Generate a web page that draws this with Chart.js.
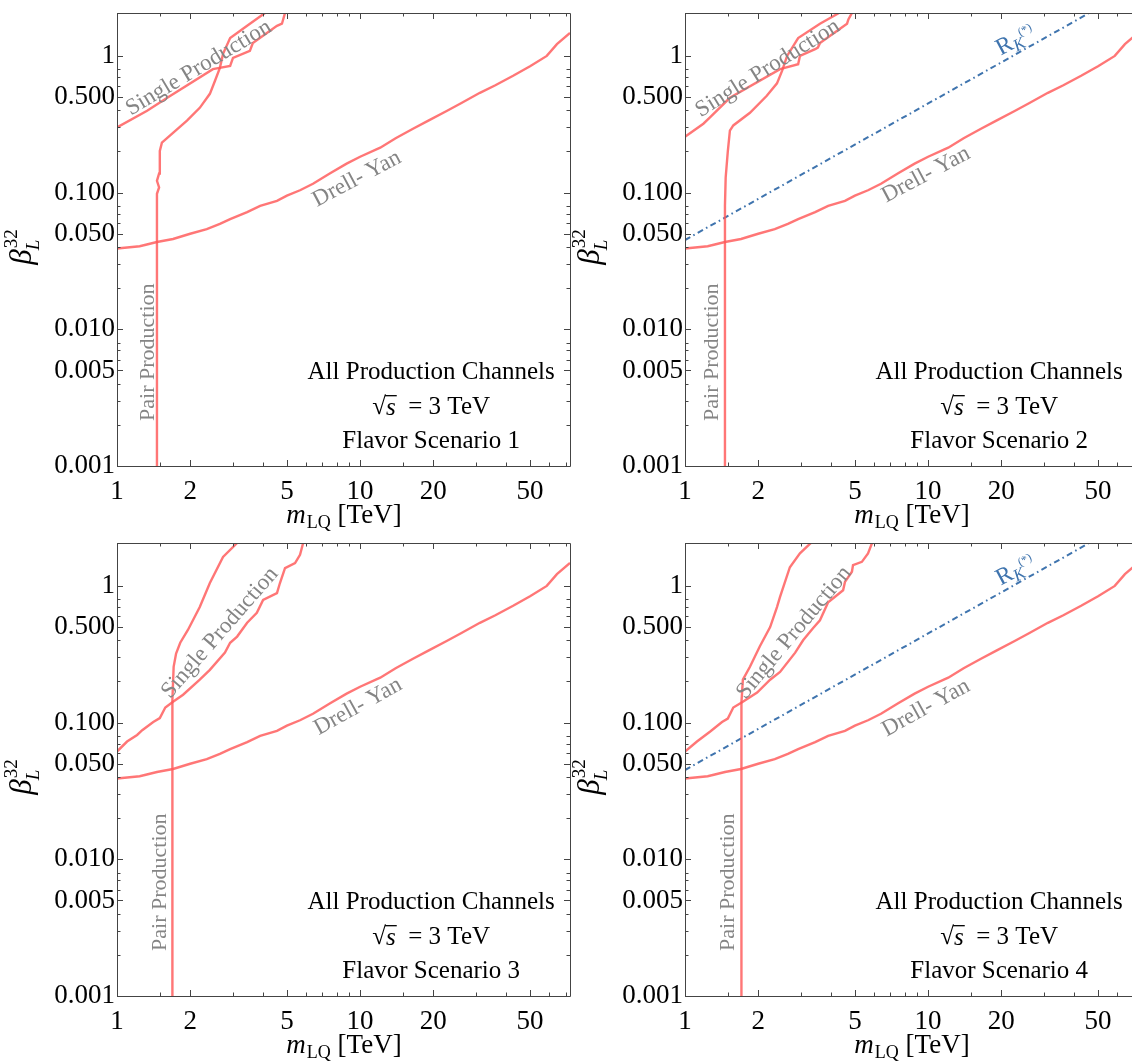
<!DOCTYPE html>
<html>
<head>
<meta charset="utf-8">
<script src="https://cdn.jsdelivr.net/npm/chart.js@4.4.1/dist/chart.umd.min.js"></script>
<style>
  html,body{margin:0;padding:0;background:#fff;overflow:hidden;}
  #wrap{position:relative;width:1132px;height:1062px;overflow:hidden;background:#fff;}
  canvas{position:absolute;}
</style>
</head>
<body>
<div id="wrap">
  <canvas id="c1" width="580" height="531" style="left:0px;top:0px"></canvas>
  <canvas id="c2" width="580" height="531" style="left:568px;top:0px"></canvas>
  <canvas id="c3" width="580" height="531" style="left:0px;top:530px"></canvas>
  <canvas id="c4" width="580" height="531" style="left:568px;top:530px"></canvas>
</div>
<script>
// ---------------- DATA ----------------
const xMin = 1, xMax = 73;
const yMin = 0.001, yMax = 2.06;

const xMajorTicks = [1, 2, 5, 10, 20, 50];
const xTickLabels = ["1", "2", "5", "10", "20", "50"];
const xMinorTicks = [1.5, 3, 4, 6, 7, 8, 9, 15, 30, 40, 60, 70];
const yMajorTicks = [0.001, 0.005, 0.01, 0.05, 0.1, 0.5, 1];
const yTickLabels = ["0.001", "0.005", "0.010", "0.050", "0.100", "0.500", "1"];
const yMinorTicks = [0.002, 0.003, 0.004, 0.006, 0.007, 0.008, 0.02, 0.03, 0.04, 0.06, 0.07, 0.08, 0.2, 0.3, 0.4, 0.6, 0.7, 0.8];

// Drell-Yan bound (same in all scenarios)
const dyMass = [1, 1.24, 1.46, 1.7, 2.0, 2.34, 2.65, 2.92, 3.43, 3.88, 4.55, 5.0, 5.66, 6.4, 7.5, 8.8, 10, 12.1, 14, 16.5, 19, 22.8, 26, 31.1, 36, 42.6, 50, 58.6, 64.5, 73];
const dyBeta = [0.039, 0.0405, 0.0435, 0.0458, 0.050, 0.054, 0.059, 0.064, 0.072, 0.080, 0.087, 0.095, 0.104, 0.116, 0.138, 0.163, 0.183, 0.213, 0.25, 0.293, 0.335, 0.397, 0.45, 0.537, 0.61, 0.715, 0.84, 1.0, 1.22, 1.47];

// R_K(*) preferred line (scenarios 2 and 4)
const rkMass = [1, 46];
const rkBeta = [0.045, 2.06];

// Scenario 1
const s1PairMass = [1.46, 1.46, 1.46, 1.49, 1.46, 1.49, 1.50, 1.53, 1.65, 1.94, 2.19, 2.41, 2.53, 2.65, 2.73, 2.92, 3.43, 4.06];
const s1PairBeta = [0.0009, 0.03, 0.098, 0.109, 0.122, 0.138, 0.202, 0.232, 0.261, 0.336, 0.417, 0.528, 0.658, 0.818, 1.035, 1.35, 1.66, 2.06];
const s1SingleMass = [1, 1.33, 1.61, 2.48, 2.92, 3.0, 3.52, 3.62, 4.55, 4.77, 4.91];
const s1SingleBeta = [0.30, 0.397, 0.494, 0.80, 0.845, 0.966, 1.087, 1.24, 1.66, 1.72, 2.06];

// Scenario 2
const s2PairMass = [1.46, 1.46, 1.47, 1.50, 1.53, 1.58, 1.85, 2.17, 2.39, 2.51, 2.63, 2.92, 3.59, 4.3];
const s2PairBeta = [0.0009, 0.08, 0.129, 0.2, 0.284, 0.31, 0.384, 0.511, 0.63, 0.78, 1.0, 1.35, 1.72, 2.06];
const s2SingleMass = [1.0, 1.19, 1.27, 1.53, 2.46, 2.92, 2.97, 3.43, 3.52, 3.59, 4.64, 4.7, 4.86];
const s2SingleBeta = [0.256, 0.319, 0.356, 0.494, 0.80, 0.87, 1.0, 1.12, 1.15, 1.24, 1.72, 1.85, 2.06];

// Scenario 3
const s3PairMass = [1.69, 1.69, 1.69, 1.71, 1.75, 1.82, 1.96, 2.19, 2.41, 2.73, 3.12];
const s3PairBeta = [0.0009, 0.028, 0.147, 0.256, 0.32, 0.384, 0.478, 0.70, 1.05, 1.63, 2.06];
const s3SingleMass = [1, 1.1, 1.21, 1.27, 1.41, 1.50, 1.58, 1.70, 1.87, 2.19, 2.41, 2.78, 2.92, 3.12, 3.43, 3.76, 3.99, 4.55, 4.68, 4.91, 5.40, 5.66, 5.83];
const s3SingleBeta = [0.0614, 0.0727, 0.0812, 0.088, 0.101, 0.108, 0.129, 0.142, 0.160, 0.206, 0.243, 0.325, 0.384, 0.426, 0.538, 0.636, 0.79, 0.886, 1.05, 1.35, 1.47, 1.69, 2.06];

// Scenario 4
const s4PairMass = [1.71, 1.71, 1.70, 1.71, 1.73, 1.85, 2.03, 2.24, 2.39, 2.46, 2.70, 2.97, 3.33];
const s4PairBeta = [0.0009, 0.0275, 0.1, 0.14, 0.206, 0.256, 0.36, 0.50, 0.70, 0.83, 1.37, 1.73, 2.1];
const s4SingleMass = [1, 1.12, 1.27, 1.42, 1.50, 1.58, 1.73, 1.98, 2.24, 2.46, 2.84, 3.06, 3.36, 3.59, 3.88, 4.47, 4.55, 4.86, 4.91, 5.34, 5.66, 5.88];
const s4SingleBeta = [0.0614, 0.0727, 0.0861, 0.101, 0.107, 0.129, 0.142, 0.166, 0.206, 0.235, 0.325, 0.40, 0.49, 0.56, 0.76, 0.93, 1.07, 1.27, 1.42, 1.50, 1.73, 2.06];

// ---------------- STYLE ----------------
const RED = 'rgba(255,88,88,0.82)';
const BLUE = '#3f74ae';
const GRAY = '#858585';
const SERIF = '"Liberation Serif", "Times New Roman", serif';

function pts(ms, bs) { return ms.map((m, i) => ({x: m, y: bs[i]})); }

function redSet(ms, bs) {
  return {data: pts(ms, bs), borderColor: RED, borderWidth: 2.4, pointRadius: 0, showLine: true, tension: 0, fill: false};
}
function blueSet(ms, bs) {
  return {data: pts(ms, bs), borderColor: BLUE, borderWidth: 2, pointRadius: 0, showLine: true, tension: 0, fill: false,
          borderDash: [6, 3.5, 1.6, 3.5]};
}

function drawRotText(ctx, text, px, py, angleDeg, font, color) {
  ctx.save();
  ctx.translate(px, py);
  ctx.rotate(angleDeg * Math.PI / 180);
  ctx.font = font;
  ctx.fillStyle = color;
  ctx.textAlign = 'center';
  ctx.textBaseline = 'middle';
  ctx.fillText(text, 0, 0);
  ctx.restore();
}

const framePlugin = {
  id: 'frameDeco',
  afterDatasetsDraw(chart) {
    const {ctx, chartArea: a, scales: {x, y}} = chart;
    const cfg = chart.options.plugins.frameDeco;
    (cfg.labels || []).forEach(l => {
      const px = x.getPixelForValue(l.m), py = y.getPixelForValue(l.b);
      drawRotText(ctx, l.text, px, py, l.angle, (l.size || 23) + 'px ' + SERIF, GRAY);
    });
    if (cfg.rk) {
      const px = x.getPixelForValue(cfg.rk.m), py = y.getPixelForValue(cfg.rk.b);
      ctx.save();
      ctx.translate(px, py);
      ctx.rotate(cfg.rk.angle * Math.PI / 180);
      ctx.fillStyle = BLUE;
      ctx.textBaseline = 'alphabetic';
      ctx.font = '24px ' + SERIF;
      const wR = ctx.measureText('R').width;
      ctx.font = 'italic 17px ' + SERIF;
      const wK = ctx.measureText('K').width;
      ctx.font = '12px ' + SERIF;
      const wS = ctx.measureText('(*)').width;
      let sx = -(wR + wK + wS) / 2;
      ctx.font = '24px ' + SERIF; ctx.fillText('R', sx, 8); sx += wR;
      ctx.font = 'italic 17px ' + SERIF; ctx.fillText('K', sx, 12); sx += wK;
      ctx.font = '12px ' + SERIF; ctx.fillText('(*)', sx - 1, 0);
      ctx.restore();
    }
    const cx = x.getPixelForValue(cfg.infoM);
    ctx.save();
    ctx.fillStyle = '#000';
    ctx.textBaseline = 'middle';
    ctx.textAlign = 'center';
    ctx.font = '25px ' + SERIF;
    ctx.fillText('All Production Channels', cx, y.getPixelForValue(cfg.infoB[0]));
    const yy = y.getPixelForValue(cfg.infoB[1]);
    ctx.textAlign = 'left';
    ctx.font = '25px ' + SERIF;
    const wRoot = ctx.measureText('\u221A').width;
    ctx.font = 'italic 25px ' + SERIF;
    const wS = ctx.measureText('s').width;
    ctx.font = '25px ' + SERIF;
    const rest = '  = 3 TeV';
    const wRest = ctx.measureText(rest).width;
    let sx = cx - (wRoot + wS + wRest) / 2;
    ctx.fillText('\u221A', sx, yy);
    ctx.fillRect(sx + wRoot - 1, yy - 12, wS + 2, 1.3);
    ctx.font = 'italic 25px ' + SERIF;
    ctx.fillText('s', sx + wRoot, yy + 1);
    ctx.font = '25px ' + SERIF;
    ctx.fillText(rest, sx + wRoot + wS, yy);
    ctx.textAlign = 'center';
    ctx.fillText('Flavor Scenario ' + cfg.scenario, cx, y.getPixelForValue(cfg.infoB[2]));
    ctx.restore();
  },
  afterDraw(chart) {
    const {ctx, chartArea: a, scales: {x, y}} = chart;
    ctx.save();
    ctx.strokeStyle = '#444';
    ctx.lineWidth = 1;
    ctx.beginPath();
    ctx.rect(a.left + 0.5, a.top + 0.5, a.right - a.left, a.bottom - a.top);
    ctx.stroke();
    ctx.beginPath();
    const tickX = (v, len) => {
      const p = Math.round(x.getPixelForValue(v)) + 0.5;
      if (p < a.left || p > a.right + 1) return;
      ctx.moveTo(p, a.bottom); ctx.lineTo(p, a.bottom - len);
      ctx.moveTo(p, a.top); ctx.lineTo(p, a.top + len);
    };
    const tickY = (v, len) => {
      const p = Math.round(y.getPixelForValue(v)) + 0.5;
      if (p < a.top || p > a.bottom + 1) return;
      ctx.moveTo(a.left, p); ctx.lineTo(a.left + len, p);
      ctx.moveTo(a.right, p); ctx.lineTo(a.right - len, p);
    };
    xMajorTicks.forEach(v => tickX(v, 6));
    xMinorTicks.forEach(v => tickX(v, 3.5));
    yMajorTicks.forEach(v => tickY(v, 6));
    yMinorTicks.forEach(v => tickY(v, 3.5));
    ctx.stroke();

    ctx.fillStyle = '#000';
    ctx.textBaseline = 'alphabetic';
    ctx.font = 'italic 27px ' + SERIF;
    const wm = ctx.measureText('m').width;
    ctx.font = '18px ' + SERIF;
    const wLQ = ctx.measureText('LQ').width;
    ctx.font = '27px ' + SERIF;
    const wT = ctx.measureText(' [TeV]').width;
    const cxm = (a.left + a.right) / 2;
    let sx = cxm - (wm + wLQ + wT) / 2;
    const by = a.bottom + 57;
    ctx.font = 'italic 27px ' + SERIF; ctx.fillText('m', sx, by); sx += wm + 1;
    ctx.font = '18px ' + SERIF; ctx.fillText('LQ', sx, by + 5); sx += wLQ;
    ctx.font = '27px ' + SERIF; ctx.fillText(' [TeV]', sx, by);

    ctx.save();
    ctx.translate(a.left - 86, (a.top + a.bottom) / 2 + 8);
    ctx.rotate(-Math.PI / 2);
    ctx.font = 'italic 31px ' + SERIF;
    const wb = ctx.measureText('\u03B2').width;
    ctx.font = '19px ' + SERIF;
    const w32 = ctx.measureText('32').width;
    let ux = -(wb + w32) / 2;
    ctx.font = 'italic 31px ' + SERIF; ctx.fillText('\u03B2', ux, 0); ux += wb + 1;
    ctx.font = '19px ' + SERIF; ctx.fillText('32', ux, -14);
    ctx.font = 'italic 19px ' + SERIF; ctx.fillText('L', ux - 2, 8);
    ctx.restore();
    ctx.restore();
  }
};

function makeChart(id, datasets, deco) {
  return new Chart(document.getElementById(id), {
    type: 'scatter',
    data: {datasets},
    options: {
      responsive: false,
      animation: false,
      layout: {padding: {top: 13, right: 10, left: 0, bottom: 0}},
      plugins: {legend: {display: false}, tooltip: {enabled: false}, frameDeco: deco},
      scales: {
        x: {
          type: 'logarithmic', min: xMin, max: xMax, position: 'bottom',
          grid: {display: false, drawTicks: false}, border: {display: false},
          afterBuildTicks: s => { s.ticks = xMajorTicks.map(v => ({value: v})); },
          afterFit: s => { s.height = 65; s.paddingLeft = 0; s.paddingRight = 0; },
          ticks: {
            autoSkip: false, maxRotation: 0, padding: 10, color: '#000',
            font: {family: SERIF, size: 27},
            callback: v => { const i = xMajorTicks.indexOf(v); return i >= 0 ? xTickLabels[i] : ''; }
          }
        },
        y: {
          type: 'logarithmic', min: yMin, max: yMax,
          grid: {display: false, drawTicks: false}, border: {display: false},
          afterBuildTicks: s => { s.ticks = yMajorTicks.map(v => ({value: v})); },
          afterFit: s => { s.width = 117; s.paddingTop = 0; s.paddingBottom = 0; },
          ticks: {
            autoSkip: false, padding: 2, color: '#000',
            font: {family: SERIF, size: 27},
            callback: v => { const i = yMajorTicks.indexOf(v); return i >= 0 ? yTickLabels[i] : ''; }
          }
        }
      }
    },
    plugins: [framePlugin]
  });
}

makeChart('c1', [redSet(dyMass, dyBeta), redSet(s1SingleMass, s1SingleBeta), redSet(s1PairMass, s1PairBeta)], {
  scenario: 1, infoM: 19.6, infoB: [0.00486, 0.0027, 0.00152],
  labels: [
    {text: 'Single Production', m: 2.17, b: 0.817, angle: -31},
    {text: 'Drell- Yan', m: 9.7, b: 0.126, angle: -28},
    {text: 'Pair Production', m: 1.34, b: 0.0068, angle: -90, size: 22}
  ]
});
makeChart('c2', [redSet(dyMass, dyBeta), redSet(s2SingleMass, s2SingleBeta), redSet(s2PairMass, s2PairBeta), blueSet(rkMass, rkBeta)], {
  scenario: 2, infoM: 19.6, infoB: [0.00486, 0.0027, 0.00152],
  rk: {m: 22.8, b: 1.33, angle: -28},
  labels: [
    {text: 'Single Production', m: 2.19, b: 0.81, angle: -32},
    {text: 'Drell- Yan', m: 9.8, b: 0.135, angle: -28},
    {text: 'Pair Production', m: 1.29, b: 0.0068, angle: -90, size: 22}
  ]
});
makeChart('c3', [redSet(dyMass, dyBeta), redSet(s3SingleMass, s3SingleBeta), redSet(s3PairMass, s3PairBeta)], {
  scenario: 3, infoM: 19.6, infoB: [0.00486, 0.0027, 0.00152],
  labels: [
    {text: 'Single Production', m: 2.65, b: 0.454, angle: -49},
    {text: 'Drell- Yan', m: 9.8, b: 0.131, angle: -29},
    {text: 'Pair Production', m: 1.50, b: 0.0068, angle: -90, size: 22}
  ]
});
makeChart('c4', [redSet(dyMass, dyBeta), redSet(s4SingleMass, s4SingleBeta), redSet(s4PairMass, s4PairBeta), blueSet(rkMass, rkBeta)], {
  scenario: 4, infoM: 19.6, infoB: [0.00486, 0.0027, 0.00152],
  rk: {m: 22.8, b: 1.33, angle: -28},
  labels: [
    {text: 'Single Production', m: 2.81, b: 0.454, angle: -50},
    {text: 'Drell- Yan', m: 9.8, b: 0.128, angle: -29},
    {text: 'Pair Production', m: 1.50, b: 0.0068, angle: -90, size: 22}
  ]
});
</script>
</body>
</html>
